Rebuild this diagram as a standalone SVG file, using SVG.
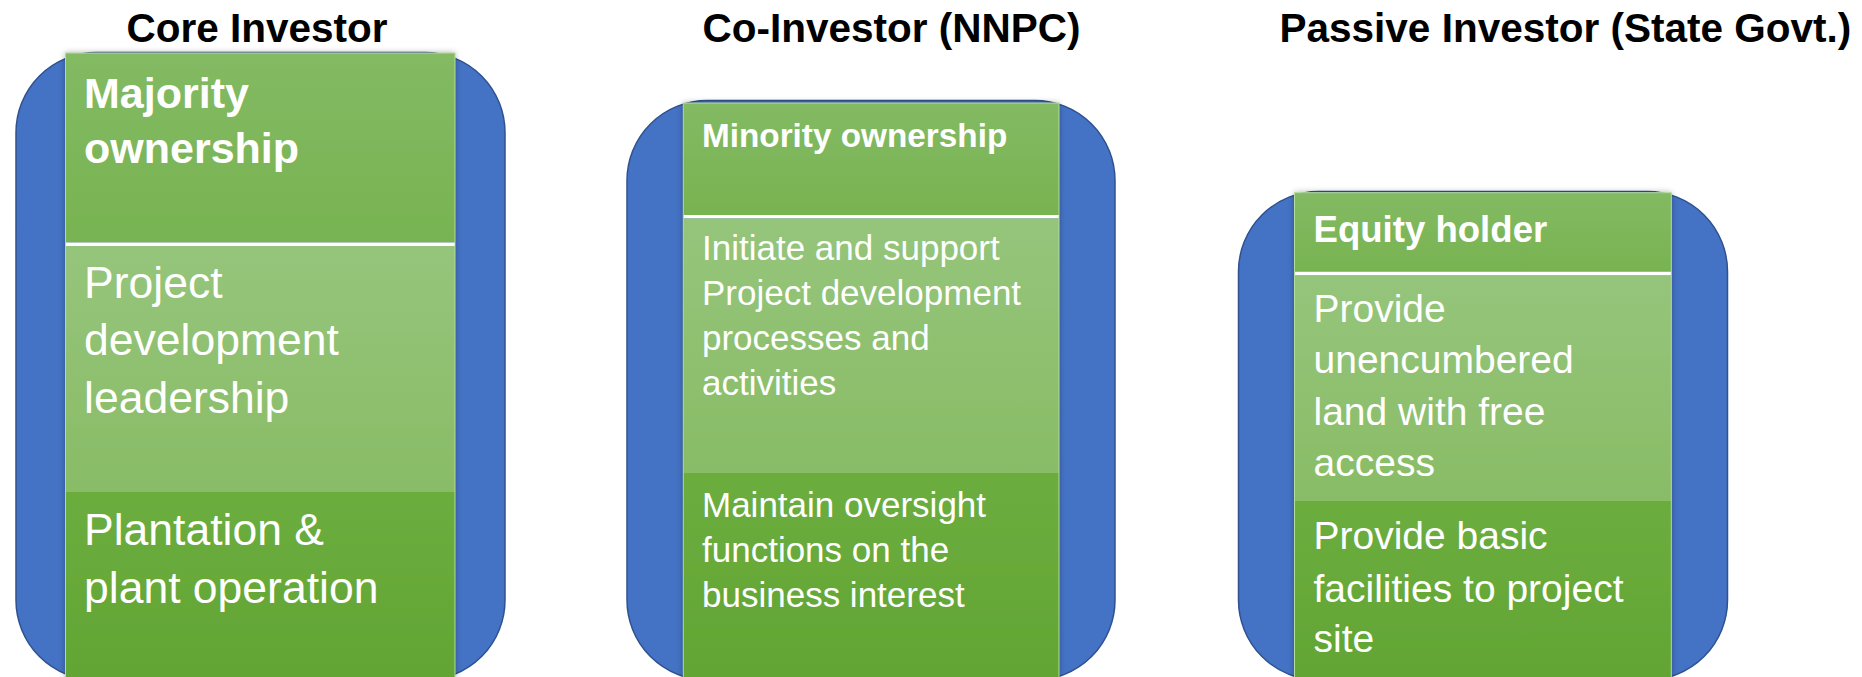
<svg xmlns="http://www.w3.org/2000/svg" width="1862" height="677" viewBox="0 0 1862 677">
  <style>
    .title { font-family: "Liberation Sans", Arial, sans-serif; font-weight: bold; font-size: 40.5px; fill: #000000; }
    .t { font-family: "Liberation Sans", Arial, sans-serif; fill: #ffffff; }
    .b { font-weight: bold; }
    .blue { fill: #4472C4; stroke: #2F528F; stroke-width: 1.5; }
    .hdr { fill: url(#gHdr); }
    .mid { fill: url(#gMid); }
    .low { fill: url(#gLow); }
    .div { fill: #ffffff; }
    .edge { fill: none; stroke: #B5DBA0; stroke-width: 1; }
  </style>
  <defs>
    <linearGradient id="gHdr" x1="0" y1="0" x2="0" y2="1">
      <stop offset="0" stop-color="#83BA63"/>
      <stop offset="1" stop-color="#78B351"/>
    </linearGradient>
    <linearGradient id="gMid" x1="0" y1="0" x2="0" y2="1">
      <stop offset="0" stop-color="#95C57B"/>
      <stop offset="1" stop-color="#89BC66"/>
    </linearGradient>
    <linearGradient id="gLow" x1="0" y1="0" x2="0" y2="1">
      <stop offset="0" stop-color="#6BAD3E"/>
      <stop offset="1" stop-color="#62A534"/>
    </linearGradient>
    <filter id="sh" x="-10%" y="-10%" width="120%" height="120%">
      <feDropShadow dx="0" dy="0" stdDeviation="3" flood-color="#000000" flood-opacity="0.35"/>
    </filter>
  </defs>

  <g id="titles">
    <text id="title-core" class="title" x="126.5" y="42">Core Investor</text>
    <text id="title-co" class="title" x="702.5" y="42">Co-Investor (NNPC)</text>
    <text id="title-passive" class="title" x="1279.5" y="42">Passive Investor (State Govt.)</text>
  </g>

  <g id="connectors"></g>

  <g id="node-core">
    <rect class="blue" x="16" y="52.5" width="489" height="627.5" rx="80" ry="80"/>
    <g filter="url(#sh)">
      <rect class="hdr" x="65.5" y="53" width="389.5" height="189.5"/>
      <rect class="div" x="65.5" y="242.5" width="389.5" height="3.5"/>
      <rect class="mid" x="65.5" y="246" width="389.5" height="246"/>
      <rect class="low" x="65.5" y="492" width="389.5" height="188"/>
    </g>
    <rect class="edge" x="65.5" y="53" width="389.5" height="627"/>
    <text class="t b" font-size="43" x="84" y="108">Majority</text>
    <text class="t b" font-size="43" x="84" y="163">ownership</text>
    <text class="t" font-size="44.5" x="84" y="298">Project</text>
    <text class="t" font-size="44.5" x="84" y="355">development</text>
    <text class="t" font-size="44.5" x="84" y="413">leadership</text>
    <text class="t" font-size="44.5" x="84" y="545">Plantation &amp;</text>
    <text class="t" font-size="44.5" x="84" y="603">plant operation</text>
  </g>

  <g id="node-co">
    <rect class="blue" x="627" y="100.5" width="488" height="579.5" rx="80" ry="80"/>
    <g filter="url(#sh)">
      <rect class="hdr" x="683.3" y="103" width="375.7" height="112"/>
      <rect class="div" x="683.3" y="215" width="375.7" height="3.5"/>
      <rect class="mid" x="683.3" y="218.5" width="375.7" height="254.5"/>
      <rect class="low" x="683.3" y="473" width="375.7" height="207"/>
    </g>
    <rect class="edge" x="683.3" y="103" width="375.7" height="577"/>
    <text class="t b" font-size="33.3" x="702" y="146.7">Minority ownership</text>
    <text class="t" font-size="35" x="702" y="260">Initiate and support</text>
    <text class="t" font-size="35" x="702" y="305">Project development</text>
    <text class="t" font-size="35" x="702" y="350">processes and</text>
    <text class="t" font-size="35" x="702" y="395">activities</text>
    <text class="t" font-size="35" x="702" y="516.7">Maintain oversight</text>
    <text class="t" font-size="35" x="702" y="561.7">functions on the</text>
    <text class="t" font-size="35" x="702" y="606.7">business interest</text>
  </g>

  <g id="node-passive">
    <rect class="blue" x="1238.5" y="191.5" width="489" height="488.5" rx="80" ry="80"/>
    <g filter="url(#sh)">
      <rect class="hdr" x="1294.5" y="192.7" width="376.8" height="79"/>
      <rect class="div" x="1294.5" y="271.7" width="376.8" height="3.8"/>
      <rect class="mid" x="1294.5" y="275.5" width="376.8" height="225.5"/>
      <rect class="low" x="1294.5" y="501" width="376.8" height="179"/>
    </g>
    <rect class="edge" x="1294.5" y="192.7" width="376.8" height="487.3"/>
    <text class="t b" font-size="36.6" x="1313.5" y="241.7">Equity holder</text>
    <text class="t" font-size="39" x="1313.5" y="321.7">Provide</text>
    <text class="t" font-size="39" x="1313.5" y="373.3">unencumbered</text>
    <text class="t" font-size="39" x="1313.5" y="425">land with free</text>
    <text class="t" font-size="39" x="1313.5" y="475.7">access</text>
    <text class="t" font-size="39" x="1313.5" y="549">Provide basic</text>
    <text class="t" font-size="39" x="1313.5" y="601.7">facilities to project</text>
    <text class="t" font-size="39" x="1313.5" y="651.7">site</text>
  </g>
</svg>
